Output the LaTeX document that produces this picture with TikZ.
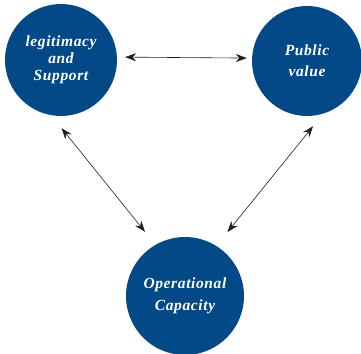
\documentclass[tikz,border=0pt]{standalone}
\usepackage{fontspec}
\setmainfont{Liberation Serif}
\usetikzlibrary{arrows.meta}
\definecolor{circblue}{RGB}{3,73,135}
\definecolor{arrowgray}{RGB}{35,31,32}
\begin{document}
\begin{tikzpicture}[x=1pt,y=-1pt]
        \useasboundingbox (0,0) rectangle (361,353);
        \begin{scope}[every node/.style={circle,fill=circblue,text=white,inner sep=0pt,align=center,font=\fontsize{15.5}{17}\selectfont\bfseries\itshape\addfontfeature{LetterSpace=4}}]
        \node[minimum size=112pt] (leg) at (61,60) {legitimacy\\and\\Support};
        \node[minimum size=110pt] (pub) at (307,61) {Public\\[4pt]value};
        \node[minimum size=118pt] (ops) at (185,296) {Operational\\[5pt]Capacity};
        \end{scope}
        \begin{scope}[every edge/.style={draw=arrowgray,line width=0.6pt,{Stealth[length=11pt,width=8pt]}-{Stealth[length=11pt,width=8pt]}}]
        \path (leg.3) edge[shorten <=8pt,shorten >=5pt] (pub.177);
        \path (leg.-100) edge[shorten <=16.5pt,shorten >=16.6pt] (ops.120);
        \path (pub.-73) edge[shorten <=16pt,shorten >=17.7pt] (ops.58.5);
        \end{scope}
        \end{tikzpicture}
\end{document}
